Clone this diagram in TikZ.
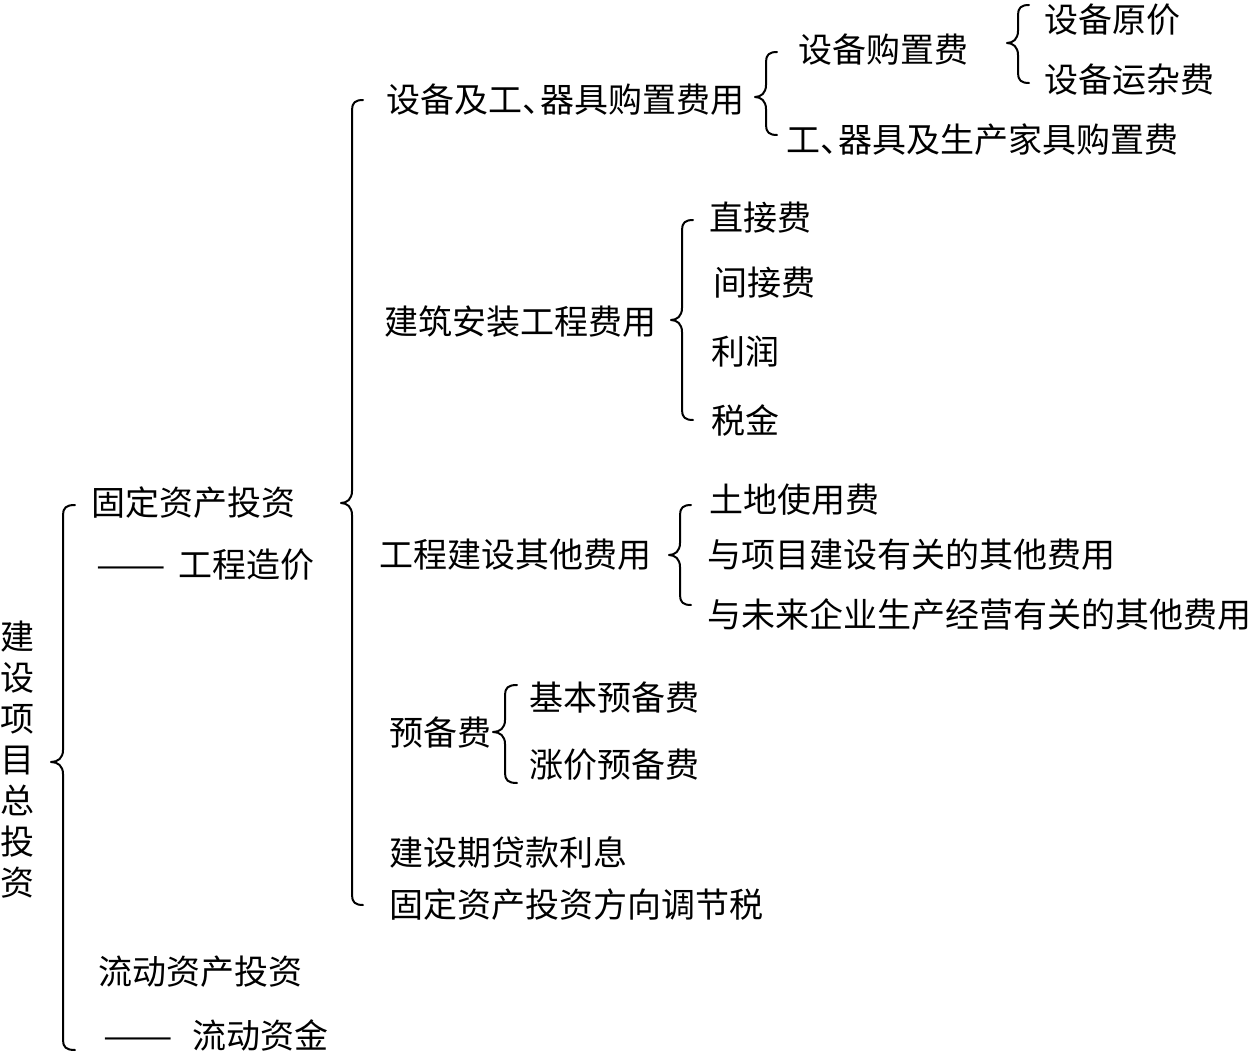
\documentclass[tikz,border=0pt]{standalone}
\usepackage{fontspec}
\setmainfont{Noto Sans CJK SC}

\tikzset{every picture/.style={line width=1pt}}
\tikzset{item/.style={anchor=west,inner sep=0pt,font=\fontsize{17}{20}\selectfont}}
\tikzset{brace line/.style={line width=1pt,line join=round,line cap=round}}

% left brace: line x, top y, tip y, bottom y, hook width
\newcommand{\drawbrc}[5]{%
  \draw[brace line] (#1+#5,#2) .. controls (#1+3,#2) and (#1,#2+3) .. (#1,#2+10)
    -- (#1,#3-12) .. controls (#1,#3-4) and (#1-5,#3) .. (#1-#5,#3)
    .. controls (#1-5,#3) and (#1,#3+4) .. (#1,#3+12)
    -- (#1,#4-10) .. controls (#1,#4-3) and (#1+3,#4) .. (#1+#5,#4);}
% narrow enumeration comma
\newcommand{\dunhao}{\makebox[0.55em][l]{、}}
% long dash
\newcommand{\longdash}{\scalebox{1.22}[1]{——}}

\begin{document}
\begin{tikzpicture}[x=0.5pt,y=0.5pt,yscale=-1,xscale=1]
\useasboundingbox (0,0) rectangle (1249,1054);

% Text Node
\node[anchor=center,inner sep=0pt,align=center,font=\fontsize{17}{20.5}\selectfont] (ztz) at (17,760) {建\\设\\项\\目\\总\\投\\资};

%Shape: Brace
\drawbrc{63}{505}{762}{1050}{12}
% Text Node
\node[item] (gdzc) at (90,503) {固定资产投资};
% Text Node
\node[item] (gczj) at (96,565) {\longdash\hspace{6pt}工程造价};
% Text Node
\node[item] (ldzc) at (97,972) {流动资产投资};
% Text Node
\node[item] (ldzj) at (102,1035) {\longdash\hspace{10pt}流动资金};

%Shape: Brace
\drawbrc{352}{100}{503}{905}{11}
% Text Node
\node[item] (sbgj) at (385,100) {设备及工\dunhao 器具购置费用};
% Text Node
\node[item] (jzaz) at (383,322) {建筑安装工程费用};
% Text Node
\node[item] (gcqt) at (378,555) {工程建设其他费用};
% Text Node
\node[item] (ybf) at (388,733) {预备费};
% Text Node
\node[item] (dklx) at (388,852) {建设期贷款利息};
% Text Node
\node[item] (tzs) at (388,905) {固定资产投资方向调节税};

%Shape: Brace
\drawbrc{766}{52}{97}{135}{11}
% Text Node
\node[item] (sbgzf) at (797,50) {设备购置费};
% Text Node
\node[item] (gqj) at (785,140) {工\dunhao 器具及生产家具购置费};

%Shape: Brace
\drawbrc{1018}{5}{43}{83}{11}
% Text Node
\node[item] (sbyj) at (1043,20) {设备原价};
% Text Node
\node[item] (sbyz) at (1043,80) {设备运杂费};

%Shape: Brace
\drawbrc{682}{220}{320}{420}{11}
% Text Node
\node[item] (zjf) at (708,218) {直接费};
% Text Node
\node[item] (jjf) at (712,283) {间接费};
% Text Node
\node[item] (lr) at (710,352) {利润};
% Text Node
\node[item] (sj) at (710,420) {税金};

%Shape: Brace
\drawbrc{680}{505}{555}{605}{11}
% Text Node
\node[item] (tdsy) at (708,500) {土地使用费};
% Text Node
\node[item] (xmjs) at (706,555) {与项目建设有关的其他费用};
% Text Node
\node[item] (qysc) at (706,615) {与未来企业生产经营有关的其他费用};

%Shape: Brace
\drawbrc{505}{685}{732}{783}{12}
% Text Node
\node[item] (jbyb) at (528,698) {基本预备费};
% Text Node
\node[item] (zjyb) at (528,765) {涨价预备费};

\end{tikzpicture}
\end{document}
